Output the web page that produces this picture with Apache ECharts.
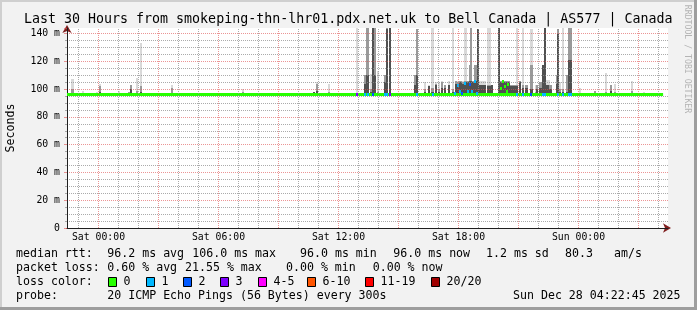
<!DOCTYPE html>
<html><head><meta charset="utf-8">
<script src="https://cdn.jsdelivr.net/npm/echarts@6/dist/echarts.min.js"></script>
<style>html,body{margin:0;padding:0;background:#f2f2f2}#c{width:697px;height:310px}</style>
</head><body><div id="c"></div><script>
// ---------- data ----------
const titleText = 'Last 30 Hours from smokeping-thn-lhr01.pdx.net.uk to Bell Canada | AS577 | Canada';
// x axis in hours relative to Sat 00:00
const xStartHour = -1.575;
const xEndHour = 28.475;
const tickHours = [0, 6, 12, 18, 24];
const tickLabels = ['Sat 00:00', 'Sat 06:00', 'Sat 12:00', 'Sat 18:00', 'Sun 00:00'];
const yMax = 144;
const yTicks = [0, 20, 40, 60, 80, 100, 120, 140];

// smoke columns: time (h), duration (min), max ping, mid band top, inner band top (ms)
const smokeT   = [-1.29,-0.79,-0.07,0.06,1.03,1.50,1.62,1.94,2.11,3.69,7.24,10.78,10.92,11.54,
  12.91,13.31,13.46,13.61,13.73,13.84,13.96,14.34,14.43,14.56,15.84,15.92,16.34,16.50,16.71,16.86,17.04,17.16,17.34,17.53,17.73,
  17.89,17.97,18.05,18.14,18.22,18.30,18.39,18.47,18.55,18.64,18.72,18.80,18.89,18.97,
  19.06,19.14,19.22,19.31,19.47,19.55,19.68,20.00,20.10,20.18,20.27,20.35,20.43,20.52,
  20.60,20.68,20.77,20.85,20.93,21.06,21.23,21.35,21.44,21.60,21.69,21.85,21.94,22.09,22.17,22.24,22.33,
  22.42,22.50,22.56,22.64,22.90,22.98,23.09,23.24,23.40,23.54,23.62,24.09,24.80,25.39,25.64,25.84,26.66,27.29];
const smokeDur = [10,5,5,5,5,5,5,5,5,5,5,5,5,5,
  5,5,10,5,5,5,5,5,5,5,5,5,5,5,10,5,5,5,5,5,5,
  5,5,5,5,5,5,5,5,5,5,5,5,5,5,
  5,5,5,5,5,5,5,5,5,5,5,5,5,5,
  5,5,5,5,5,5,5,5,5,5,5,5,5,5,5,5,5,
  5,5,5,5,5,5,5,5,5,5,5,5,5,5,5,5,5,5];
const smokeHi  = [107.5,98.4,98,103.7,98.4,98,103.2,108,133,103.2,100.3,98,105,104,
  144,110,144,111,144,144,113,110,144,144,110,143,105,103,144,105,105,105.6,103,105.6,144,
  105.6,106,105.6,106,105.6,144,144,106,117.6,144,106,117.6,117.6,143,
  105.6,105.6,105.6,105.6,144,144,103,144,105.6,105.6,105.6,105.6,105.6,105.6,
  103,103,103,103,144,105.6,144,103,103,143,143,103,103,105.4,105.4,117.6,144,
  106.8,106.8,103,103,110,143,105.4,144,110,144,144,101,99,111.8,103,103.6,105.6,97.8];
const smokeMid = [100,97,97,102.5,97,98,103.2,99,102.5,101,98,98,104,98,
  97,110,144,100,144,144,98,110,144,144,110,143,100,102,101,104,100,105,103,103,100,
  105.6,105,105.6,105.6,105,106,105.6,105.6,117.6,144,105.6,117.6,117.6,143,
  103,103,103,103,103,103,103,144,105.6,105.6,105.6,105.6,105.6,105.6,
  103,103,103,103,103,105.6,103,103,103,117.6,117.6,98,103,105.4,105.4,117.6,144,
  103,103,103,103,110,143,100,100,110,144,144,97,99,98,103,98,99,97];
const smokeLo  = [97,96.5,96.5,98,96.5,97,100,97,98,97,97,98,99,97,
  96.5,104,110,98,144,110,97,105,143,144,103,110,98,102,98,103,98,101,101,103,98,
  104,104,105,105,104,105,105,105,106,106,105,105,106,143,
  103,103,103,103,102,102,103,144,105,105,105,105,105,105,
  102,102,102,102,102,105,101,101,101,100,100,97,100,101,101,117.6,144,
  103,103,100,100,104,140,98,98,98,121,121,97,97,97,98.4,97,97,96.5];
const smokeBase = 96;

// median rtt: constant part and individual samples (time h, median ms, lost pings class)
const medianBase = 96.2;
const medianSpan = [-1.575, 28.23];
const medT    = [12.91,13.31,13.46,13.73,14.34,14.43,14.56,15.92,16.71,
  17.84,17.97,18.05,18.17,18.34,18.47,18.59,18.69,18.84,18.94,
  20.14,20.24,20.34,20.42,20.47,20.93,21.23,21.60,22.24,22.33,22.98,23.24,23.54,23.62];
const medV    = [96.2,96.2,96.2,96.2,96.2,96.2,96.2,96.2,96.2,
  97,102.7,98.4,96.5,103.7,98.4,103,98.4,105.6,97,
  100.7,105.6,102,98.4,103,96.2,96.2,96.2,96.2,96.2,96.2,96.2,96.2,96.2];
const medLoss = [3,1,1,2,1,1,3,1,1,
  1,1,1,2,1,1,2,1,1,1,
  0,0,0,0,0,1,1,2,1,1,1,1,1,1];

const lossLabels = ['0', '1', '2', '3', '4-5', '6-10', '11-19', '20/20'];
const lossColors = ['#26ff00', '#00b8ff', '#0059ff', '#7e00ff', '#ff00ff', '#ff5500', '#ff0000', '#a00000'];

const statRtt  = ['median rtt:', '96.2 ms avg', '106.0 ms max', '96.0 ms min', '96.0 ms now', '1.2 ms sd', '80.3', 'am/s'];
const statLoss = ['packet loss:', '0.60 % avg', '21.55 % max', '0.00 % min', '0.00 % now'];
const probeText = ['probe:', '20 ICMP Echo Pings (56 Bytes) every 300s'];
const dateText = 'Sun Dec 28 04:22:45 2025';

// ---------- chart ----------
const MONO = 'DejaVu Sans Mono';
const chart = echarts.init(document.getElementById('c'), null, {renderer: 'canvas'});

const minorHours = [], majorHours = [];
for (let h = Math.ceil(xStartHour); h <= xEndHour; h++) (h % 3 === 0 ? majorHours : minorHours).push(h);

const SH = {light: '#d9d9d9', mid: '#9a9a9a', dark: '#505050'};
function smokeItem(params, api) {
  const t = api.value(0), d = api.value(1) / 60;
  const xa = Math.round(api.coord([t - d / 2, 0])[0]);
  const xb = Math.max(xa + 2, Math.round(api.coord([t + d / 2, 0])[0]));
  const yb = Math.round(api.coord([t, smokeBase])[1]);
  const mk = (v, c) => {
    const y = Math.round(api.coord([t, v])[1]);
    return {type: 'rect', shape: {x: xa, y: y, width: xb - xa, height: yb - y}, style: {fill: c}};
  };
  return {type: 'group', children: [mk(api.value(2), SH.light), mk(api.value(3), SH.mid), mk(api.value(4), SH.dark)]};
}
function medItem(params, api) {
  const t = api.value(0), d = 5 / 60;
  const xa = Math.round(api.coord([t - d / 2, 0])[0]);
  const xb = Math.max(xa + 2, Math.round(api.coord([t + d / 2, 0])[0]));
  const y = api.coord([t, api.value(1)])[1];
  return {type: 'rect', shape: {x: xa, y: Math.round(y - 1.5), width: xb - xa, height: 3},
    style: {fill: lossColors[api.value(2)]}};
}

const gridLine = (hours, color) => ({
  type: 'line', data: [], silent: true, z: 1,
  markLine: {silent: true, symbol: ['none', 'none'], label: {show: false}, animation: false,
    lineStyle: {type: [1, 1], width: 1, color: color},
    data: hours.map(h => ({xAxis: h}))}
});

const textEl = (x, y, s, extra) => Object.assign({type: 'text', x: x, y: y, silent: true,
  style: Object.assign({text: s, font: '11.6px "' + MONO + '"', fill: '#000', verticalAlign: 'middle'}, extra || {})});

const rttX = [16, 107.3, 192.3, 300, 393.3, 486, 565, 614];
const lossX = [16, 107.3, 185, 286, 372.7];
const boxX = [108, 146, 183, 220, 258, 307, 365, 431];
const rowY = [253.5, 267.5, 281.5, 296];

const graphics = [];
// borders
graphics.push({type: 'rect', shape: {x: 0, y: 0, width: 697, height: 2}, style: {fill: '#cfcfcf'}, silent: true});
graphics.push({type: 'rect', shape: {x: 0, y: 0, width: 2, height: 310}, style: {fill: '#cfcfcf'}, silent: true});
graphics.push({type: 'rect', shape: {x: 0, y: 307, width: 697, height: 3}, style: {fill: '#9e9e9e'}, silent: true});
graphics.push({type: 'rect', shape: {x: 694, y: 0, width: 3, height: 310}, style: {fill: '#9e9e9e'}, silent: true});
graphics.push(textEl(24, 19.5, titleText, {font: '13.3px "' + MONO + '"'}));
graphics.push({type: 'text', x: 687, y: 59, rotation: -Math.PI / 2, silent: true,
  style: {text: 'RRDTOOL / TOBI OETIKER', font: '8.2px "' + MONO + '"', fill: '#b4b4b4', align: 'center', verticalAlign: 'middle'}});
statRtt.forEach((s, i) => graphics.push(textEl(rttX[i], rowY[0], s)));
statLoss.forEach((s, i) => graphics.push(textEl(lossX[i], rowY[1], s)));
graphics.push(textEl(16, rowY[2], 'loss color:'));
lossLabels.forEach((s, i) => {
  graphics.push({type: 'rect', silent: true, shape: {x: boxX[i] + 0.5, y: 277.5, width: 8, height: 9},
    style: {fill: lossColors[i], stroke: '#000', lineWidth: 1}});
  graphics.push(textEl(boxX[i] + 15.5, rowY[2], s));
});
graphics.push(textEl(16, rowY[3], probeText[0]));
graphics.push(textEl(107.3, rowY[3], probeText[1]));
graphics.push(textEl(513, rowY[3], dateText));

const axisFont = {fontFamily: MONO, fontSize: 9.8, color: '#000'};

chart.setOption({
  animation: false,
  backgroundColor: '#f2f2f2',
  grid: {left: 67, right: 29, top: 28, bottom: 82, show: true, backgroundColor: '#ffffff', borderWidth: 0,
    containLabel: false, outerBoundsMode: 'none'},
  xAxis: [{
    type: 'value', min: xStartHour, max: xEndHour, z: 3,
    axisLine: {show: true, onZero: false, lineStyle: {color: '#1f1f1f', width: 1}},
    axisTick: {show: false},
    splitLine: {show: false},
    axisLabel: Object.assign({customValues: tickHours, margin: 4,
      formatter: v => { const i = tickHours.indexOf(Math.round(v)); return i >= 0 ? tickLabels[i] : ''; }}, axisFont)
  }, {
    type: 'value', min: xStartHour, max: xEndHour, position: 'bottom', z: 2,
    axisLine: {show: true, onZero: false, symbol: ['none', 'arrow'], symbolSize: [7, 8], symbolOffset: [0, 3],
      lineStyle: {color: '#801f1f', width: 1}},
    axisTick: {show: false}, axisLabel: {show: false}, splitLine: {show: false}
  }],
  yAxis: [{
    type: 'value', min: 0, max: yMax, interval: 20, z: 3,
    name: 'Seconds', nameLocation: 'middle', nameGap: 50, nameRotate: 90,
    nameTextStyle: {fontFamily: MONO, fontSize: 11.6, color: '#000'},
    axisLine: {show: true, onZero: false, lineStyle: {color: '#1f1f1f', width: 1}},
    axisTick: {show: true, length: 3, lineStyle: {color: 'rgba(222,79,79,0.6)'}},
    minorTick: {show: true, splitNumber: 4, length: 2, lineStyle: {color: 'rgba(143,143,143,0.75)'}},
    splitLine: {show: true, showMaxLine: false, showMinLine: false, lineStyle: {type: [1, 1], color: 'rgba(222,79,79,0.6)'}},
    minorSplitLine: {show: true, lineStyle: {type: [1, 1], color: 'rgba(143,143,143,0.75)'}},
    axisLabel: Object.assign({margin: 7, showMaxLabel: false,
      formatter: v => yTicks.indexOf(v) < 0 ? '' : (v === 0 ? '0' : v + ' m')}, axisFont)
  }, {
    type: 'value', min: 0, max: yMax, position: 'left', z: 2,
    axisLine: {show: true, onZero: false, symbol: ['none', 'arrow'], symbolSize: [7, 8], symbolOffset: [0, 3],
      lineStyle: {color: '#801f1f', width: 1}},
    axisTick: {show: false}, axisLabel: {show: false}, splitLine: {show: false}
  }],
  graphic: graphics,
  series: [
    gridLine(minorHours, 'rgba(143,143,143,0.75)'),
    gridLine(majorHours, 'rgba(222,79,79,0.6)'),
    {type: 'custom', z: 2, renderItem: smokeItem, clip: true, silent: true,
      encode: {x: 0, y: [2, 3, 4]},
      data: smokeT.map((t, i) => [t, smokeDur[i], smokeHi[i], smokeMid[i], smokeLo[i]])},
    {type: 'line', z: 3, silent: true, symbol: 'none', lineStyle: {color: lossColors[0], width: 3},
      data: [[medianSpan[0], medianBase], [medianSpan[1], medianBase]]},
    {type: 'custom', z: 4, renderItem: medItem, silent: true, encode: {x: 0, y: 1},
      data: medT.map((t, i) => [t, medV[i], medLoss[i]])}
  ]
});
</script></body></html>
